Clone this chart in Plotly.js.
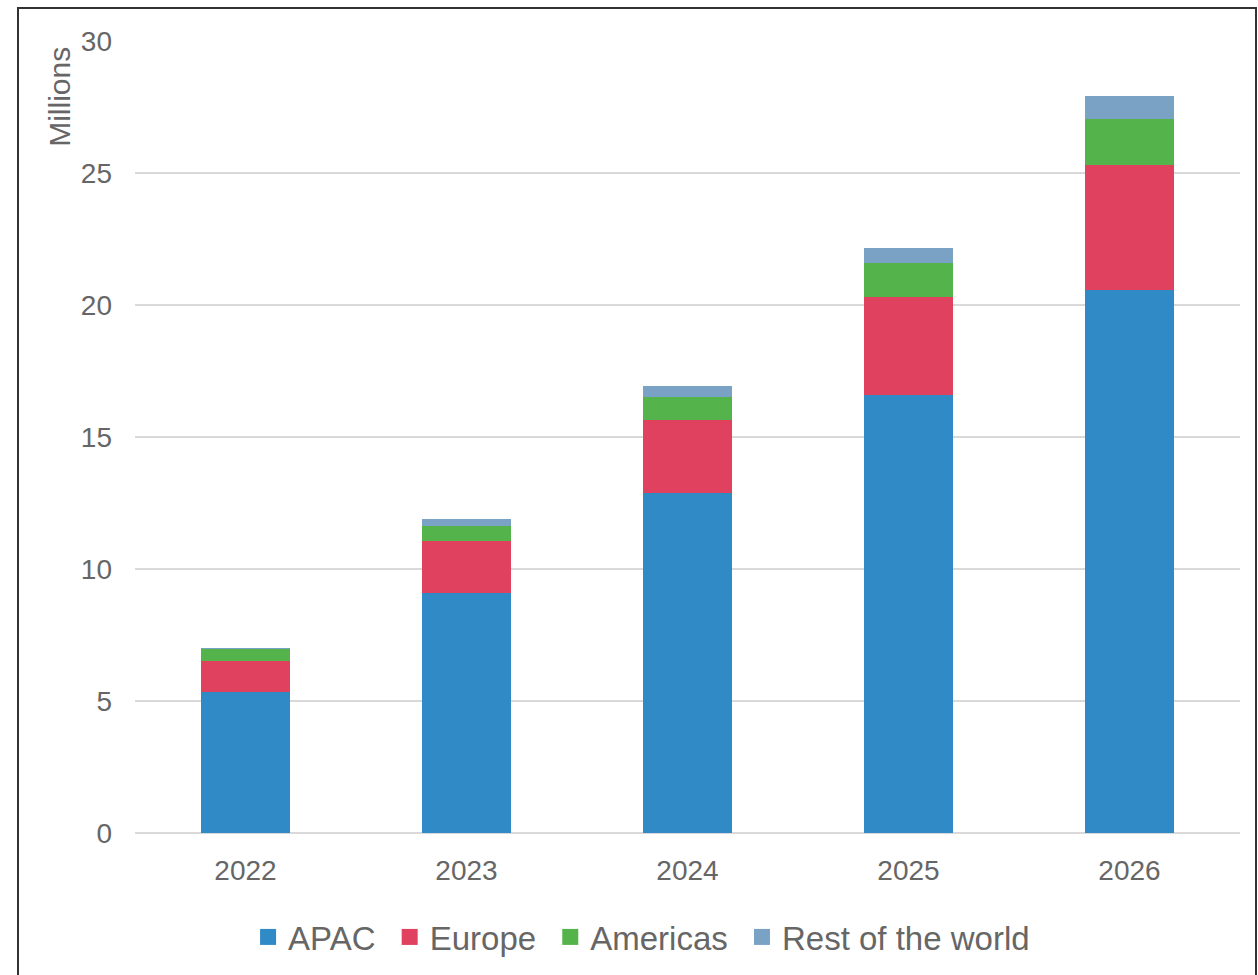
<!DOCTYPE html>
<html>
<head>
<meta charset="utf-8">
<script src="https://cdn.plot.ly/plotly-3.0.1.min.js"></script>
<style>
html,body{margin:0;padding:0;background:#fff;}
#wrap{position:relative;width:1258px;height:975px;overflow:hidden;}
#chart{position:absolute;left:0;top:0;width:1258px;height:975px;}
#frame{position:absolute;left:17px;top:7px;width:1240px;height:990px;border:2px solid #333;box-sizing:border-box;pointer-events:none;}
</style>
</head>
<body>
<div id="wrap">
<div id="chart"></div>
<div id="frame"></div>
</div>
<script>
const years = ['2022', '2023', '2024', '2025', '2026'];
const apac = [5.36, 9.10, 12.89, 16.59, 20.57];
const europe = [1.17, 1.97, 2.75, 3.73, 4.73];
const americas = [0.44, 0.56, 0.89, 1.26, 1.73];
const rest = [0.03, 0.25, 0.40, 0.57, 0.90];
const seriesNames = ['APAC', 'Europe', 'Americas', 'Rest of the world'];
const colors = ['#2f8ac6', '#e0415f', '#55b34b', '#7aa2c4'];

const vals = [apac, europe, americas, rest];
const traces = vals.map((v, i) => ({
  type: 'bar',
  name: seriesNames[i],
  x: years,
  y: v,
  marker: {color: colors[i], line: {width: 0}},
  showlegend: false,
  legendgroup: seriesNames[i]
}));
// legend entries with larger square swatches
seriesNames.forEach((n, i) => {
  traces.push({
    type: 'scatter',
    mode: 'markers',
    name: i < seriesNames.length - 1 ? n + '\u00a0' : n,
    x: [null],
    y: [null],
    marker: {symbol: 'square', size: 16, color: colors[i]},
    showlegend: true,
    legendgroup: n
  });
});

const layout = {
  width: 1258,
  height: 975,
  barmode: 'stack',
  bargap: 0.6,
  paper_bgcolor: '#ffffff',
  plot_bgcolor: '#ffffff',
  margin: {l: 135, r: 18, t: 41, b: 142},
  font: {family: 'Liberation Sans, Arial, sans-serif', color: '#666666'},
  xaxis: {
    type: 'category',
    categoryorder: 'array',
    categoryarray: years,
    tickfont: {size: 28, color: '#666666'},
    showgrid: false,
    showline: false,
    ticks: '',
    ticklabelstandoff: 18
  },
  yaxis: {
    range: [0, 30],
    tickvals: [0, 5, 10, 15, 20, 25, 30],
    tickfont: {size: 28, color: '#666666'},
    showgrid: true,
    gridcolor: '#d9d9d9',
    gridwidth: 1.5,
    zeroline: true,
    zerolinecolor: '#d9d9d9',
    zerolinewidth: 1.5,
    showline: false,
    ticks: '',
    ticklabelstandoff: 22
  },
  legend: {
    orientation: 'h',
    x: 0.51,
    xanchor: 'center',
    xref: 'container',
    y: 0.039,
    yref: 'container',
    yanchor: 'middle',
    traceorder: 'normal',
    font: {size: 33, color: '#666666'},
    itemwidth: 30
  },
  annotations: [{
    text: 'Millions',
    textangle: -90,
    xref: 'paper',
    yref: 'paper',
    x: -0.068,
    y: 0.995,
    xanchor: 'center',
    yanchor: 'top',
    showarrow: false,
    font: {size: 30, color: '#666666'}
  }],
  showlegend: true
};

Plotly.newPlot('chart', traces, layout, {displayModeBar: false, staticPlot: true});
</script>
</body>
</html>
